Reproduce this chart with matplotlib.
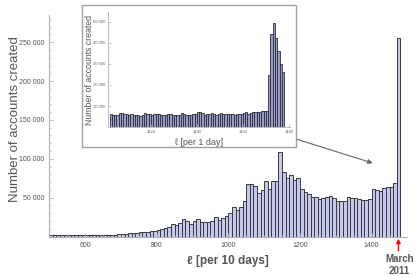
import matplotlib
matplotlib.use("Agg")
import matplotlib.pyplot as plt
from matplotlib.patches import Rectangle
from matplotlib.ticker import FuncFormatter, MultipleLocator, FixedLocator
import numpy as np

plt.rcParams['font.family'] = ['Liberation Sans', 'DejaVu Sans']

# ---- data: accounts created per 10-day bin (left edge of bin) ----
bin_start = 500
bin_width = 10
counts_10d = [
    1500, 1500, 1600, 1500, 1500, 1600, 1500, 1600, 1700, 1600,
    2300, 2000, 1900, 2000, 2100, 2000, 2200, 2300, 2500, 2700,
    3000, 3500, 4000, 4300, 4800, 5200, 5800, 6300, 6800, 7300,
    8200, 9500, 11000, 12500, 16000, 15000, 18000, 23000, 19400, 16000,
    20000, 22400, 19000, 19000, 19000, 19400, 24500, 21500, 23600, 26700,
    30000, 37400, 34400, 37400, 46000, 67500, 67500, 65400, 55500, 59800,
    71000, 61000, 71000, 71000, 108500, 83400, 75000, 79500, 73000, 75500,
    61000, 57500, 55000, 50500, 50300, 48500, 49500, 50300, 52000, 49500,
    46000, 46000, 46000, 50300, 49500, 49500, 48200, 46900, 46900, 48200,
    61000, 59800, 58900, 62400, 63200, 64000, 68400, 255000,
]

# ---- data: accounts created per day (inset) ----
day_start = 1402
counts_1d = [
    6200, 5900, 5800, 6000, 6900, 6700, 6100, 6100, 6000, 6200,
    5900, 6000, 5700, 5500, 6000, 6800, 6300, 6100, 5800, 6100,
    6500, 6300, 5800, 5900, 6000, 6500, 6400, 6000, 5800, 5900,
    6000, 6600, 6400, 6000, 5800, 6000, 6200, 6100, 7200, 7000,
    6600, 6000, 6100, 6400, 6700, 6200, 6000, 6300, 6800, 6400,
    6200, 6100, 6200, 6300, 6000, 6200, 6500, 6200, 6600, 7100,
    6400, 6900, 7200, 7400, 7000, 7200, 7600, 7500, 7900,
    24500, 44000, 49500, 42000, 36000, 30000, 26000,
]

main_xticks = [600, 800, 1000, 1200, 1400]
main_yticks = [50000, 100000, 150000, 200000, 250000]
inset_xticks = [1420, 1440, 1460, 1480]
inset_yticks = [10000, 20000, 30000, 40000, 50000]

W, H = 416, 276
fig = plt.figure(figsize=(W / 100, H / 100), dpi=100)

def fx(px):
    return px / W

def fy(py):
    return 1 - py / H

def sp(v, p):
    return "" if v == 0 else f"{int(v):,}".replace(",", " ")

grey = "#555555"
axcol = "#b0b0b0"

# ---- main axes ----
ax = fig.add_axes([fx(49.3), fy(236.5), fx(406.7) - fx(49.3), fy(15) - fy(236.5)])
ax.set_zorder(0)
x10 = bin_start + bin_width * np.arange(len(counts_10d))
ax.bar(x10, counts_10d, width=bin_width, align='edge', color="#c3c7ee",
       edgecolor="#3a3a3a", linewidth=0.7)
ax.set_xlim(500, 1498)
ax.set_ylim(0, 285000)
for s in ['top', 'right']:
    ax.spines[s].set_visible(False)
for s in ['left', 'bottom']:
    ax.spines[s].set_color(axcol)
    ax.spines[s].set_linewidth(0.8)
ax.xaxis.set_major_locator(FixedLocator(main_xticks))
ax.xaxis.set_minor_locator(MultipleLocator(50))
ax.yaxis.set_major_locator(FixedLocator(main_yticks))
ax.yaxis.set_minor_locator(MultipleLocator(10000))
ax.yaxis.set_major_formatter(FuncFormatter(sp))
ax.tick_params(which='both', direction='in', color=axcol, labelcolor="#555555",
               labelsize=5)
ax.tick_params(which='major', length=3, width=0.6)
ax.tick_params(which='minor', length=1.5, width=0.5)
ax.tick_params(axis='x', pad=4)
ax.set_ylabel("Number of accounts created", fontsize=9.5, color=grey)
ax.yaxis.set_label_coords(-0.08, 0.53)
ax.set_xlabel("ℓ [per 10 days]", fontsize=8.5, color=grey, fontweight='bold',
              labelpad=4)

# red arrow marking March 2011 (last bin)
last_center = x10[-1] + bin_width / 2
ax.annotate("", xy=(last_center, -0.01), xycoords=('data', 'axes fraction'),
            xytext=(last_center, -0.065), textcoords=('data', 'axes fraction'),
            arrowprops=dict(arrowstyle="-|>", color="red", lw=1.0,
                            mutation_scale=6, shrinkA=0, shrinkB=0))
ax.text(last_center + 3, -0.08, "March\n2011", transform=ax.get_xaxis_transform(),
        ha='center', va='top', fontsize=7, fontweight='bold', color=grey,
        linespacing=1.25)

# ---- inset frame ----
frame = Rectangle((fx(82), fy(147)), fx(296) - fx(82), fy(5) - fy(147),
                  transform=fig.transFigure, facecolor='white',
                  edgecolor="#a0a0a0", linewidth=1.0, zorder=1)
fig.patches.append(frame)

# gray arrow from inset to the last bin
ax.annotate("", xy=(1403, 94500), xycoords='data',
            xytext=(fx(296), fy(139)), textcoords='figure fraction',
            arrowprops=dict(arrowstyle="-|>", color="#666666", lw=0.8,
                            mutation_scale=7, shrinkA=0, shrinkB=0))

# ---- inset axes ----
ia = fig.add_axes([fx(107.7), fy(127.3), fx(290) - fx(107.7), fy(12) - fy(127.3)])
ia.set_zorder(2)
ia.patch.set_alpha(0)
x1 = day_start + np.arange(len(counts_1d))
ia.bar(x1, counts_1d, width=1, align='edge', color="#969cc6",
       edgecolor="#2e2e3a", linewidth=0.6)
ia.set_xlim(1401.2, 1480.5)
ia.set_ylim(0, 54500)
for s in ['top', 'right']:
    ia.spines[s].set_visible(False)
for s in ['left', 'bottom']:
    ia.spines[s].set_color(axcol)
    ia.spines[s].set_linewidth(0.6)
ia.xaxis.set_major_locator(FixedLocator(inset_xticks))
ia.xaxis.set_minor_locator(MultipleLocator(5))
ia.yaxis.set_major_locator(FixedLocator(inset_yticks))
ia.yaxis.set_minor_locator(MultipleLocator(2000))
ia.yaxis.set_major_formatter(FuncFormatter(sp))
ia.tick_params(which='both', direction='in', color=axcol, labelcolor="#666666",
               labelsize=3)
ia.tick_params(which='major', length=2, width=0.5, pad=2)
ia.tick_params(which='minor', length=1, width=0.4)
ia.set_ylabel("Number of accounts created", fontsize=6.3, color=grey)
ia.yaxis.set_label_coords(-0.075, 0.5)
ia.set_xlabel("ℓ [per 1 day]", fontsize=6.5, color=grey, labelpad=3)

fig.savefig("out.png", dpi=100)
